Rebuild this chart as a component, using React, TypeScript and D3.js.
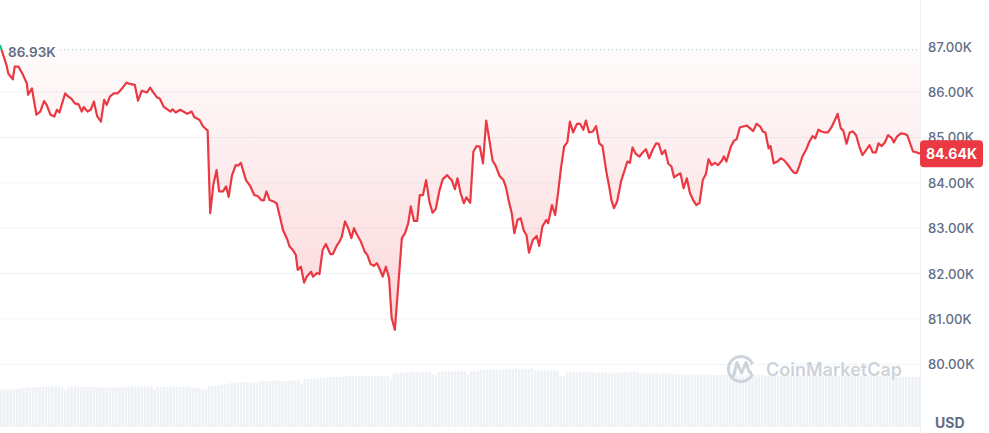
import React from 'react';
import * as d3 from 'd3';

// minutes since start of the 24h window
const minutes = [
  0, 10, 13, 20, 23, 29, 36, 42, 44, 50, 57, 63, 69, 73, 79, 85, 89, 93, 102, 107,
  112, 117, 123, 128, 131, 137, 142, 147, 152, 158, 163, 167, 172, 178, 184, 190, 198, 203, 211, 216,
  222, 230, 235, 241, 246, 250, 256, 262, 267, 270, 275, 282, 287, 293, 300, 304, 312, 318, 325, 329,
  334, 339, 343, 349, 354, 358, 363, 369, 373, 377, 385, 392, 398, 403, 409, 413, 417, 422, 428, 433,
  438, 443, 450, 453, 459, 463, 466, 471, 476, 480, 487, 490, 496, 500, 505, 510, 517, 521, 527, 532,
  535, 540, 545, 550, 554, 559, 565, 571, 575, 580, 585, 590, 595, 599, 604, 609, 613, 618, 629, 634,
  639, 643, 648, 653, 657, 662, 667, 672, 677, 682, 688, 693, 700, 704, 707, 712, 716, 721, 726, 730,
  736, 741, 746, 751, 756, 761, 766, 771, 776, 782, 788, 792, 796, 801, 805, 810, 815, 820, 824, 828,
  834, 840, 844, 849, 855, 858, 864, 869, 874, 878, 883, 888, 892, 897, 903, 908, 913, 917, 922, 928,
  933, 938, 943, 949, 954, 957, 961, 966, 972, 977, 982, 986, 990, 995, 1001, 1006, 1011, 1016, 1022, 1027,
  1031, 1036, 1041, 1046, 1051, 1055, 1060, 1065, 1070, 1075, 1080, 1085, 1090, 1095, 1100, 1105, 1109, 1114, 1119, 1124,
  1130, 1133, 1137, 1144, 1149, 1153, 1158, 1163, 1169, 1174, 1179, 1184, 1190, 1194, 1198, 1203, 1206, 1211, 1217, 1222,
  1227, 1232, 1238, 1243, 1247, 1251, 1256, 1262, 1267, 1272, 1276, 1281, 1286, 1291, 1296, 1302, 1307, 1311, 1316, 1320,
  1325, 1330, 1335, 1340, 1345, 1350, 1355, 1361, 1366, 1371, 1375, 1380, 1385, 1390, 1396, 1399, 1404, 1410, 1415, 1420,
  1429, 1435, 1440,
];

// price in thousands of USD
const prices = [
  87.04, 86.60, 86.41, 86.28, 86.56, 86.56, 86.38, 86.19, 85.94, 86.08, 85.50, 85.57, 85.80, 85.72, 85.50, 85.46, 85.61, 85.55, 85.97, 85.90,
  85.85, 85.75, 85.73, 85.57, 85.67, 85.57, 85.61, 85.79, 85.47, 85.35, 85.83, 85.72, 85.90, 85.97, 85.97, 86.06, 86.21, 86.18, 86.16, 85.81,
  86.03, 85.99, 86.10, 85.97, 85.88, 85.86, 85.68, 85.62, 85.57, 85.62, 85.55, 85.61, 85.57, 85.52, 85.57, 85.45, 85.39, 85.24, 85.15, 83.33,
  83.96, 84.28, 83.81, 83.81, 83.92, 83.69, 84.16, 84.39, 84.38, 84.44, 84.06, 83.92, 83.73, 83.71, 83.62, 83.61, 83.81, 83.62, 83.59, 83.55,
  83.26, 82.96, 82.74, 82.60, 82.51, 82.41, 82.08, 82.15, 81.80, 81.93, 82.04, 81.93, 82.01, 81.99, 82.52, 82.65, 82.43, 82.43, 82.61, 82.72,
  82.81, 83.15, 83.00, 82.78, 83.00, 82.85, 82.70, 82.48, 82.41, 82.21, 82.17, 82.23, 82.08, 81.93, 82.15, 81.90, 81.02, 80.76, 82.78, 82.89,
  83.11, 83.48, 83.16, 83.16, 83.73, 83.73, 84.06, 83.59, 83.34, 83.42, 83.84, 84.08, 84.17, 84.10, 84.06, 83.86, 84.10, 83.77, 83.55, 83.68,
  83.56, 84.69, 84.81, 84.80, 84.43, 85.37, 84.94, 84.49, 84.37, 84.15, 84.06, 83.90, 83.62, 83.33, 82.89, 83.18, 83.22, 82.94, 82.85, 82.46,
  82.74, 82.83, 82.61, 83.04, 83.18, 83.11, 83.51, 83.29, 83.84, 84.32, 84.80, 84.89, 85.35, 85.11, 85.30, 85.30, 85.17, 85.37, 85.11, 85.13,
  85.25, 84.87, 84.81, 84.25, 83.88, 83.62, 83.44, 83.59, 84.03, 84.25, 84.47, 84.44, 84.78, 84.64, 84.58, 84.67, 84.74, 84.54, 84.74, 84.87,
  84.86, 84.63, 84.72, 84.42, 84.36, 84.12, 84.17, 84.21, 83.88, 84.10, 83.77, 83.62, 83.51, 83.56, 84.06, 84.20, 84.52, 84.39, 84.44, 84.39,
  84.49, 84.58, 84.47, 84.80, 84.93, 84.96, 85.22, 85.24, 85.26, 85.20, 85.14, 85.30, 85.24, 85.13, 85.11, 84.76, 84.81, 84.43, 84.47, 84.54,
  84.50, 84.42, 84.30, 84.22, 84.22, 84.37, 84.58, 84.74, 84.91, 85.03, 84.98, 85.17, 85.13, 85.11, 85.11, 85.24, 85.39, 85.52, 85.20, 85.15,
  84.86, 85.11, 85.13, 85.05, 84.80, 84.61, 84.71, 84.83, 84.67, 84.67, 84.87, 84.81, 84.89, 85.05, 84.98, 84.89, 85.02, 85.09, 85.08, 85.05,
  84.69, 84.67, 84.64,
];

// 24h volume (billions USD), one bar per 5 minutes
const volumes = [
  25.0, 25.0, 25.2, 25.0, 25.1, 25.3, 25.8, 26.0, 26.4, 26.5, 26.6, 26.5, 26.6, 26.7, 26.8, 27.1,
  27.1, 27.0, 26.8, 26.6, 24.5, 26.7, 27.0, 27.1, 27.0, 26.9, 26.8, 26.7, 26.5, 26.7, 26.6, 26.4,
  26.3, 26.3, 26.4, 26.2, 26.3, 26.5, 26.4, 26.6, 26.8, 27.2, 27.3, 27.0, 27.3, 27.2, 26.8, 27.1,
  25.0, 26.8, 26.7, 26.9, 26.9, 26.8, 26.9, 26.7, 26.8, 26.9, 26.6, 26.5, 26.3, 26.2, 26.1, 25.1,
  25.2, 27.1, 27.3, 27.6, 27.8, 28.4, 28.7, 28.9, 29.3, 29.6, 29.7, 29.8, 29.9, 29.8, 29.5, 29.6,
  29.7, 30.4, 30.6, 30.5, 30.7, 30.8, 31.0, 30.9, 30.8, 30.6, 31.0, 31.1, 30.9, 30.8, 28.7, 31.9,
  32.2, 32.3, 32.5, 32.6, 32.8, 33.0, 33.1, 33.3, 33.2, 33.4, 33.5, 33.4, 34.0, 34.0, 33.9, 34.0,
  34.1, 34.0, 33.9, 34.0, 33.8, 33.9, 34.0, 34.1, 33.9, 33.7, 31.8, 35.5, 35.7, 36.0, 36.2, 36.4,
  36.5, 36.6, 36.7, 36.6, 36.7, 36.6, 36.7, 34.9, 34.9, 37.0, 37.1, 36.9, 37.0, 37.1, 37.3, 37.2,
  37.1, 36.8, 34.5, 37.1, 37.2, 37.0, 38.0, 37.9, 38.4, 38.2, 37.9, 38.6, 38.3, 38.8, 39.1, 38.5,
  38.9, 39.3, 38.7, 38.9, 39.0, 38.6, 39.2, 37.8, 37.9, 37.8, 37.7, 37.8, 37.6, 37.7, 37.8, 34.0,
  34.2, 36.4, 36.7, 36.8, 36.5, 36.9, 36.6, 36.2, 36.5, 36.7, 36.3, 36.1, 36.6, 36.2, 35.9, 36.4,
  35.8, 36.0, 36.3, 36.8, 36.5, 36.6, 36.9, 36.2, 36.0, 35.8, 35.6, 35.9, 35.7, 35.5, 35.4, 35.8,
  35.6, 35.4, 35.5, 35.0, 34.9, 34.9, 34.8, 34.9, 34.9, 34.8, 34.9, 34.9, 34.8, 34.9, 34.9, 34.8,
  34.7, 34.5, 34.5, 34.6, 34.5, 34.4, 34.5, 34.5, 34.4, 34.5, 34.4, 34.5, 34.4, 34.4, 34.5, 34.4,
  34.3, 34.4, 34.3, 34.4, 34.3, 34.3, 34.4, 34.3, 34.2, 34.3, 34.2, 34.3, 34.2, 34.2, 34.3, 34.2,
  34.1, 34.2, 34.1, 34.2, 34.1, 34.0, 34.1, 34.0, 34.1, 34.0, 34.0, 34.1, 34.0, 33.9, 34.0, 34.0,
  33.9, 34.0, 33.9, 33.9, 34.0, 33.8, 33.9, 33.8, 33.7, 33.6, 33.5, 33.4, 33.3, 33.4, 33.3, 33.3,
];

const yTicks = [80, 81, 82, 83, 84, 85, 86, 87];
const openPrice = 86.93;
const lastPrice = 84.64;
const currency = 'USD';
const brand = 'CoinMarketCap';

const RED = '#ea3943';
const GREEN = '#16c784';
const FONT = 'Inter, "Noto Sans", sans-serif';

export default function App() {
  const W = 989;
  const H = 433;
  const plotR = 920;

  const x = d3.scaleLinear().domain([0, 1440]).range([0, plotR]);
  const y = d3.scaleLinear().domain([80, 87]).range([364.3, 46.7]);
  const vy = d3.scaleLinear().domain([0, 40]).range([427, 367]);
  const band = d3
    .scaleBand<number>()
    .domain(d3.range(volumes.length))
    .range([0, plotR])
    .paddingInner(0.22);

  const data = minutes.map((m, i) => ({ m, p: prices[i] }));
  const by = y(openPrice);
  const line = d3
    .line<{ m: number; p: number }>()
    .x((d) => x(d.m))
    .y((d) => y(d.p));
  const area = d3
    .area<{ m: number; p: number }>()
    .x((d) => x(d.m))
    .y0(by)
    .y1((d) => y(d.p));

  const linePath = line(data) || '';
  const areaPath = area(data) || '';
  const minY = y(d3.min(prices) as number);
  const fmt = (v: number) => `${v.toFixed(2)}K`;

  return (
    <div style={{ position: 'absolute', left: 0, top: 0 }}>
      <svg width={W} height={H} style={{ display: 'block', fontFamily: FONT }}>
        <defs>
          <clipPath id="below">
            <rect x={0} y={by} width={plotR} height={H - by} />
          </clipPath>
          <clipPath id="above">
            <rect x={0} y={0} width={plotR} height={by} />
          </clipPath>
          <linearGradient id="redFill" gradientUnits="userSpaceOnUse" x1={0} y1={by} x2={0} y2={minY}>
            <stop offset="0" stopColor={RED} stopOpacity={0.02} />
            <stop offset="1" stopColor={RED} stopOpacity={0.2} />
          </linearGradient>
          <linearGradient id="greenFill" gradientUnits="userSpaceOnUse" x1={0} y1={by} x2={0} y2={0}>
            <stop offset="0" stopColor={GREEN} stopOpacity={0.02} />
            <stop offset="1" stopColor={GREEN} stopOpacity={0.2} />
          </linearGradient>
        </defs>

        <rect x={0} y={0} width={W} height={H} fill="#fff" />

        {/* grid lines */}
        {yTicks
          .filter((t) => t < 87)
          .map((t) => (
            <line key={t} x1={0} x2={plotR} y1={y(t)} y2={y(t)} stroke="#eff2f5" strokeWidth={1} />
          ))}

        {/* volume bars */}
        {volumes.map((v, i) => (
          <rect
            key={i}
            x={band(i) as number}
            y={vy(v)}
            width={band.bandwidth()}
            height={vy(0) - vy(v)}
            fill="#eef1f5"
          />
        ))}

        {/* watermark */}
        <g>
          <circle cx={741} cy={369} r={12.5} fill="none" stroke="#cdd3db" strokeWidth={3} />
          <path
            d="M733.5 376 L737 362.5 L741.5 373 L746 362.5 L749 371 Q751 375 754 371"
            fill="none"
            stroke="#cdd3db"
            strokeWidth={3}
            strokeLinejoin="round"
            strokeLinecap="round"
          />
          <rect x={752} y={364} width={6} height={10} fill="#fff" />
          <text x={766} y={369} dominantBaseline="central" fontSize={18} fontWeight={600} fill="#cdd3db">
            {brand}
          </text>
        </g>

        {/* fills */}
        <path d={areaPath} fill="url(#redFill)" clipPath="url(#below)" />
        <path d={areaPath} fill="url(#greenFill)" clipPath="url(#above)" />

        {/* open price dotted line */}
        <line
          x1={60}
          x2={plotR}
          y1={by}
          y2={by}
          stroke="#a6b0c3"
          strokeWidth={1}
          strokeDasharray="1 3"
        />
        <text x={8} y={by + 2} dominantBaseline="central" fontSize={13.5} fontWeight={600} fill="#616e85">
          {fmt(openPrice)}
        </text>

        {/* price line */}
        <path
          d={linePath}
          fill="none"
          stroke={RED}
          strokeWidth={2.2}
          strokeLinejoin="round"
          clipPath="url(#below)"
        />
        <path
          d={linePath}
          fill="none"
          stroke={GREEN}
          strokeWidth={2.2}
          strokeLinejoin="round"
          clipPath="url(#above)"
        />

        {/* right axis */}
        <line x1={plotR + 0.5} x2={plotR + 0.5} y1={0} y2={H} stroke="#eff2f5" strokeWidth={1} />
        {yTicks.map((t) => (
          <text
            key={t}
            x={928}
            y={y(t)}
            dominantBaseline="central"
            fontSize={13.2}
            fontWeight={500}
            fill="#616e85"
          >
            {fmt(t)}
          </text>
        ))}

        {/* last price tag */}
        <rect x={plotR} y={y(lastPrice) - 13.5} width={63} height={27} rx={4} fill={RED} />
        <text
          x={plotR + 31.5}
          y={y(lastPrice)}
          textAnchor="middle"
          dominantBaseline="central"
          fontSize={14}
          fontWeight={700}
          fill="#fff"
        >
          {fmt(lastPrice)}
        </text>

        <text x={935} y={422} dominantBaseline="central" fontSize={14} fontWeight={700} fill="#616e85">
          {currency}
        </text>
      </svg>
    </div>
  );
}
